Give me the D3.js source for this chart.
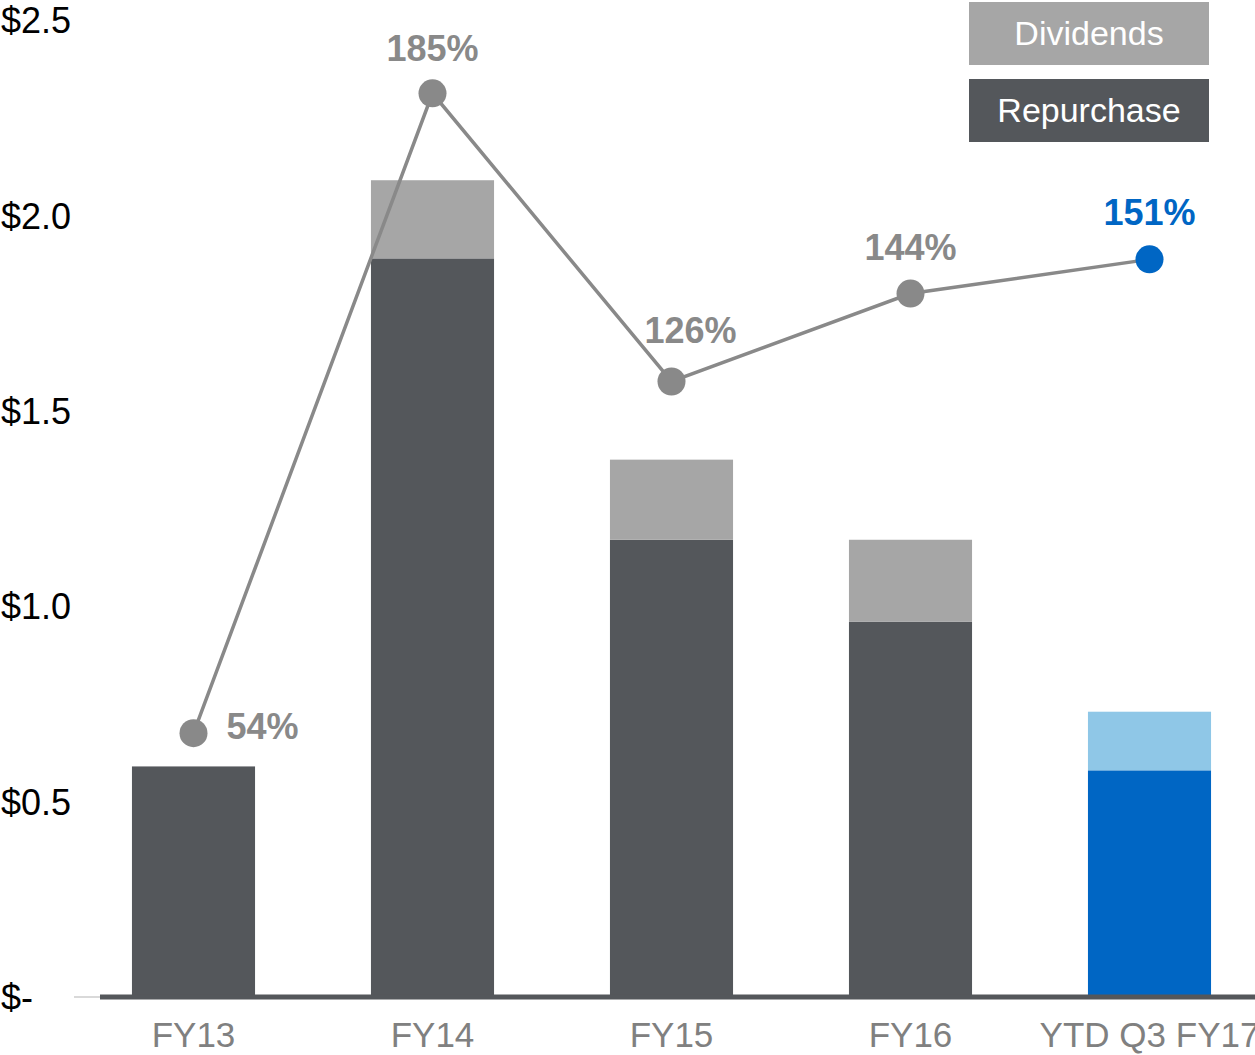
<!DOCTYPE html>
<html>
<head>
<meta charset="utf-8">
<script src="https://cdn.jsdelivr.net/npm/d3@7"></script>
<style>
  html, body { margin: 0; padding: 0; background: #fff; }
  svg { display: block; font-family: "Liberation Sans", Arial, sans-serif; }
</style>
</head>
<body>
<svg id="chart" width="1255" height="1055"></svg>
<script>
// Capital returned to shareholders ($B) and payout ratio (%)
const categories = ["FY13", "FY14", "FY15", "FY16", "YTD Q3 FY17"];
const repurchase = [0.59, 1.89, 1.17, 0.96, 0.58];
const dividends  = [0.00, 0.20, 0.205, 0.21, 0.15];
const payoutPct  = [54, 185, 126, 144, 151];
const yTicks     = [0, 0.5, 1.0, 1.5, 2.0, 2.5];
const legendLabels = ["Dividends", "Repurchase"];

const W = 1255, H = 1055;
const baseY = 997, topY = 20;

const colors = {
  repurchase: "#54575b",
  dividends: "#a6a6a6",
  repurchaseHi: "#0066c4",
  dividendsHi: "#8fc7e7",
  line: "#898989",
  label: "#898989",
  labelHi: "#0066c4",
  cat: "#808080"
};

const svg = d3.select("#chart");

const x = d3.scaleBand()
  .domain(categories)
  .range([74, 74 + 239 * categories.length])
  .paddingInner(0.485)
  .paddingOuter(0.2425);

const y = d3.scaleLinear().domain([0, 2.5]).range([baseY, topY]);
// payout ratio shares the vertical extent: 200% at the $2.5 gridline
const yPct = d3.scaleLinear().domain([0, 200]).range([baseY, topY]);

const isLast = (i) => i === categories.length - 1;

// stacked bars
const stackData = categories.map((c, i) => ({ cat: c, repurchase: repurchase[i], dividends: dividends[i], i }));
const stack = d3.stack().keys(["repurchase", "dividends"])(stackData);

svg.append("g").selectAll("g")
  .data(stack)
  .join("g")
  .each(function (layer) {
    d3.select(this).selectAll("rect")
      .data(layer.filter(d => d[1] - d[0] > 0))
      .join("rect")
      .attr("x", d => x(d.data.cat))
      .attr("width", x.bandwidth())
      .attr("y", d => y(d[1]))
      .attr("height", d => y(d[0]) - y(d[1]))
      .attr("fill", d => {
        const hi = isLast(d.data.i);
        if (layer.key === "repurchase") return hi ? colors.repurchaseHi : colors.repurchase;
        return hi ? colors.dividendsHi : colors.dividends;
      });
  });

// baseline
svg.append("line")
  .attr("x1", 74).attr("x2", 100)
  .attr("y1", baseY).attr("y2", baseY)
  .attr("stroke", "#d9d9d9").attr("stroke-width", 2);
svg.append("line")
  .attr("x1", 100).attr("x2", W)
  .attr("y1", baseY).attr("y2", baseY)
  .attr("stroke", colors.repurchase).attr("stroke-width", 5);

// y axis labels
const yAxis = d3.axisRight(y)
  .tickValues(yTicks)
  .tickSize(0)
  .tickPadding(0)
  .tickFormat(d => d === 0 ? "$-" : "$" + d.toFixed(1));
const gy = svg.append("g").attr("transform", "translate(1,0)").call(yAxis);
gy.select(".domain").remove();
gy.selectAll("text")
  .attr("font-family", "Liberation Sans, Arial, sans-serif")
  .attr("font-size", 36)
  .attr("fill", "#000")
  .attr("dy", "0.35em");

// category labels
const xAxis = d3.axisBottom(x).tickSize(0).tickPadding(0);
const gx = svg.append("g").attr("transform", `translate(0,${baseY})`).call(xAxis);
gx.select(".domain").remove();
gx.selectAll("text")
  .attr("font-family", "Liberation Sans, Arial, sans-serif")
  .attr("font-size", 35)
  .attr("fill", colors.cat)
  .attr("y", 38)
  .attr("dy", "0.35em");

// payout ratio line
const cx = (c) => x(c) + x.bandwidth() / 2;
const pts = categories.map((c, i) => ({ c, v: payoutPct[i], i }));
svg.append("path")
  .datum(pts)
  .attr("fill", "none")
  .attr("stroke", colors.line)
  .attr("stroke-width", 3.5)
  .attr("d", d3.line().x(d => cx(d.c)).y(d => yPct(d.v)));

svg.append("g").selectAll("circle")
  .data(pts)
  .join("circle")
  .attr("cx", d => cx(d.c))
  .attr("cy", d => yPct(d.v))
  .attr("r", 14)
  .attr("fill", d => isLast(d.i) ? colors.labelHi : colors.line);

// ratio labels: first sits to the right of its marker, others above
const labelOffset = [
  { dx: 33, dy: -7, anchor: "start" },
  { dx: 0, dy: -45, anchor: "middle" },
  { dx: 19, dy: -51, anchor: "middle" },
  { dx: 0, dy: -46, anchor: "middle" },
  { dx: 0, dy: -47, anchor: "middle" }
];
svg.append("g").selectAll("text")
  .data(pts)
  .join("text")
  .attr("x", d => cx(d.c) + labelOffset[d.i].dx)
  .attr("y", d => yPct(d.v) + labelOffset[d.i].dy)
  .attr("dy", "0.35em")
  .attr("text-anchor", d => labelOffset[d.i].anchor)
  .attr("font-size", 36)
  .attr("font-weight", "bold")
  .attr("fill", d => isLast(d.i) ? colors.labelHi : colors.label)
  .text(d => d.v + "%");

// legend
const legend = svg.append("g").attr("transform", "translate(969,2)");
const legendFill = [colors.dividends, colors.repurchase];
legendLabels.forEach((name, i) => {
  const g = legend.append("g").attr("transform", `translate(0,${i * 77})`);
  g.append("rect").attr("width", 240).attr("height", 63).attr("fill", legendFill[i]);
  g.append("text")
    .attr("x", 120).attr("y", 31).attr("dy", "0.35em")
    .attr("text-anchor", "middle")
    .attr("font-size", 34)
    .attr("fill", "#fff")
    .text(name);
});
</script>
</body>
</html>
